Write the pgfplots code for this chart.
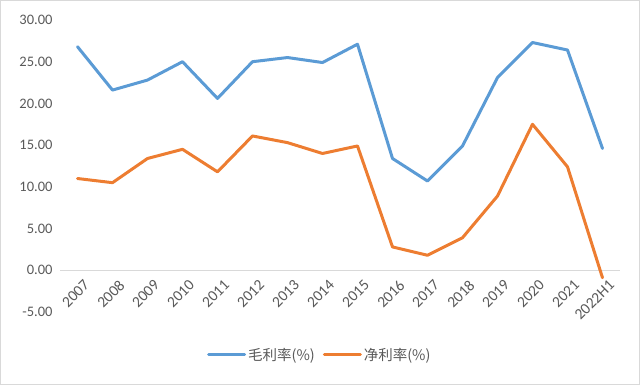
\documentclass[border=0pt]{standalone}
\usepackage{pgfplots}
\pgfplotsset{compat=1.18}
\usepackage{fontspec}
\setmainfont{Carlito}
\newfontfamily\cjk{Noto Sans CJK SC}
\definecolor{eblue}{HTML}{5B9BD5}
\definecolor{eorange}{HTML}{ED7D31}
\definecolor{lblgray}{HTML}{595959}
\definecolor{axgray}{HTML}{D9D9D9}
\begin{document}
\begin{tikzpicture}
\draw[use as bounding box, draw=axgray, line width=1pt] (0.5pt,0.5pt) rectangle (639.5pt,384.5pt);
\begin{axis}[
  at={(60pt,73pt)}, anchor=south west,
  scale only axis, width=560pt, height=292pt,
  xmin=-0.5, xmax=15.5, ymin=-5, ymax=30,
  axis x line=middle, axis y line=left,
  x axis line style={-, draw=axgray, line width=1.2pt},
  y axis line style={draw=none},
  major tick length=0pt,
  xtick={0,...,15},
  xticklabels={2007,2008,2009,2010,2011,2012,2013,2014,2015,2016,2017,2018,2019,2020,2021,2022H1},
  ytick={-5,0,5,10,15,20,25,30},
  /pgf/number format/assume math mode=true,
  yticklabel={\pgfmathprintnumber[fixed,fixed zerofill,precision=2]{\tick}},
  ticklabel style={font=\fontsize{14.5}{16}\selectfont, text=lblgray},
  yticklabel style={xshift=-4pt},
  xticklabel style={rotate=45, anchor=north east, inner sep=1pt, font=\fontsize{15.5}{17}\selectfont, xshift=-1pt, yshift=-9pt},
  clip=false,
  legend columns=2,
  legend style={at={(0.464,-0.147)}, anchor=center, draw=none, fill=none,
    font=\cjk\fontsize{14.5}{16}\selectfont, text=lblgray,
    /tikz/every even column/.append style={column sep=6pt}},
  legend image code/.code={\draw[#1, line width=3pt] (0pt,0pt) -- (36pt,0pt);},
]
\addplot[eblue, line width=3pt, line join=round, line cap=round] coordinates {
(0,26.8) (1,21.6) (2,22.8) (3,25.0) (4,20.6) (5,25.0) (6,25.5) (7,24.9)
(8,27.1) (9,13.4) (10,10.7) (11,14.9) (12,23.1) (13,27.3) (14,26.4) (15,14.6)};
\addlegendentry{毛利率(\%)}
\addplot[eorange, line width=3pt, line join=round, line cap=round] coordinates {
(0,11.0) (1,10.5) (2,13.4) (3,14.5) (4,11.8) (5,16.1) (6,15.3) (7,14.0)
(8,14.9) (9,2.8) (10,1.8) (11,3.9) (12,8.9) (13,17.5) (14,12.4) (15,-0.9)};
\addlegendentry{净利率(\%)}
\end{axis}
\end{tikzpicture}
\end{document}
